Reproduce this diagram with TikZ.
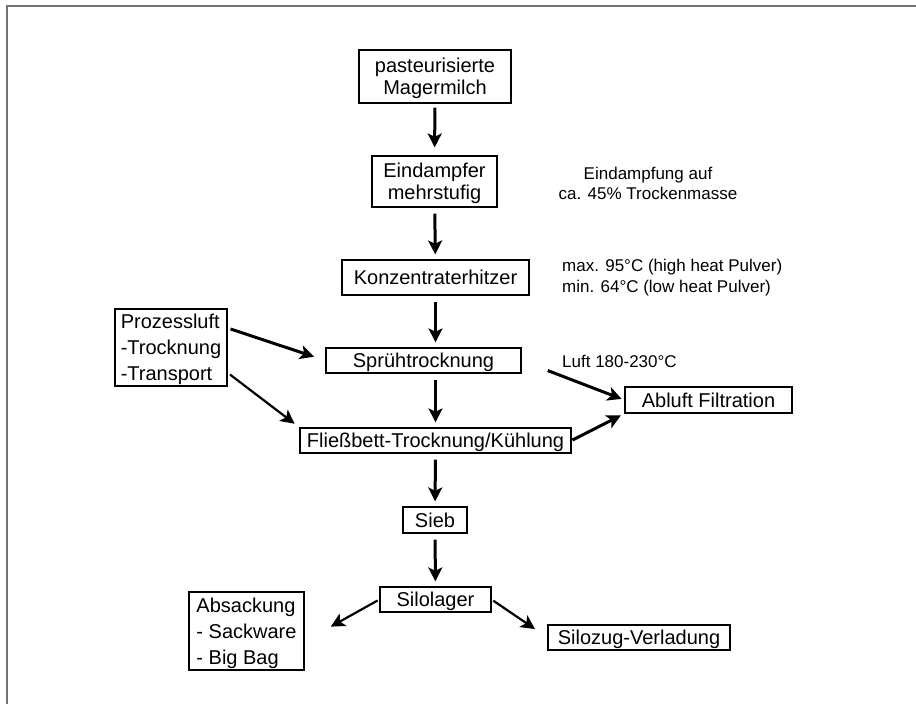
\documentclass[tikz,border=0pt]{standalone}
\usepackage{fontspec}
\setmainfont{Liberation Sans}
\usetikzlibrary{positioning,arrows.meta}

\begin{document}
\begin{tikzpicture}
 [
    x=1pt, y=-1pt,
% Box styles
    box/.style={rectangle,draw,line width=1.2pt,inner sep=2pt,text depth=0pt,
        font=\fontsize{20}{21.5}\selectfont},
    twobox/.style={box,align=center,font=\fontsize{20}{22}\selectfont},
    listbox/.style={box,align=left,font=\fontsize{20}{26}\selectfont},
% Note style
    note/.style={inner sep=0pt,font=\fontsize{17}{20.5}\selectfont},
% Arrow styles
    flow/.style={-{Stealth[length=14pt,width=14pt,inset=3.5pt]},line width=3pt,
        shorten <=6pt,shorten >=5pt},
    thinflow/.style={flow,line width=2.2pt},
    frame/.style={draw=black!55,line width=1.5pt}
    ]
\useasboundingbox (0,0) rectangle (916,704);
\draw [frame] (7,704) -- (7,6) -- (916,6);
%% Draw boxes
 \node (milch) [twobox,minimum width=152pt,minimum height=53pt] at (435,76.5) {pasteurisierte\\Magermilch};
 \node (eind)  [twobox,minimum width=125pt,minimum height=51pt] at (434.5,181.5) {Eindampfer\\mehrstufig};
 \node (konz)  [box,minimum width=187pt,minimum height=35pt] at (435.5,277.5) {Konzentraterhitzer};
 \node (spr)   [box,minimum width=195pt,minimum height=25pt] at (423.5,360.5) {Sprühtrocknung};
 \node (fb)    [box,minimum width=271pt,minimum height=25pt] at (435.5,440.5) {Fließbett-Trocknung/Kühlung};
 \node (luft)  [listbox,minimum width=112pt,minimum height=77pt] at (171,347.5) {Prozessluft\\-Trocknung\\-Transport};
 \node (abl)   [box,minimum width=167pt,minimum height=26pt] at (708.5,400) {Abluft Filtration};
 \node (sieb)  [box,minimum width=64pt,minimum height=26pt] at (435,520) {Sieb};
 \node (silo)  [box,minimum width=111pt,minimum height=25pt] at (435.5,599.5) {Silolager};
 \node (sack)  [listbox,minimum width=115pt,minimum height=78pt] at (246.5,631) {Absackung\\- Sackware\\- Big Bag};
 \node (zug)   [box,minimum width=182pt,minimum height=25pt] at (639,637.5) {Silozug-Verladung};
% Notes
 \node (n1) [note,align=center] at (648,183.5) {Eindampfung auf\\ca. 45\% Trockenmasse};
 \node (n2) [note,align=left,anchor=west] at (562,277.5) {max. 95°C (high heat Pulver)\\min. 64°C (low heat Pulver)};
 \node (n3) [note,anchor=west] at (562,361) {Luft 180-230°C};
%% Draw arrows
 \draw [flow,shorten <=4pt,shorten >=8pt] (milch) -- (eind);
 \draw [flow] (eind) -- (konz);
 \draw [flow] (konz.south) -- (konz.south |- spr.north);
 \draw [flow] (konz.south |- spr.south) -- (konz.south |- fb.north);
 \draw [flow] (fb) -- (sieb);
 \draw [flow] (sieb) -- (silo);
 \draw [flow,shorten <=3pt,shorten >=12pt] (luft.19) -- (spr.west);
 \draw [thinflow,shorten <=3pt,shorten >=6pt] (luft.-24) -- (fb.north west);
 \draw [flow,shorten <=28pt,shorten >=3pt] (spr.east) -- (abl.west);
 \draw [flow,shorten <=1pt,shorten >=4pt] (fb.east) -- (abl.south west);
 \draw [thinflow,shorten <=2pt,shorten >=30pt] (silo.west) -- (sack.-10);
 \draw [thinflow,shorten <=2pt,shorten >=15pt] (silo.east) -- (zug.west);
\end{tikzpicture}
\end{document}
